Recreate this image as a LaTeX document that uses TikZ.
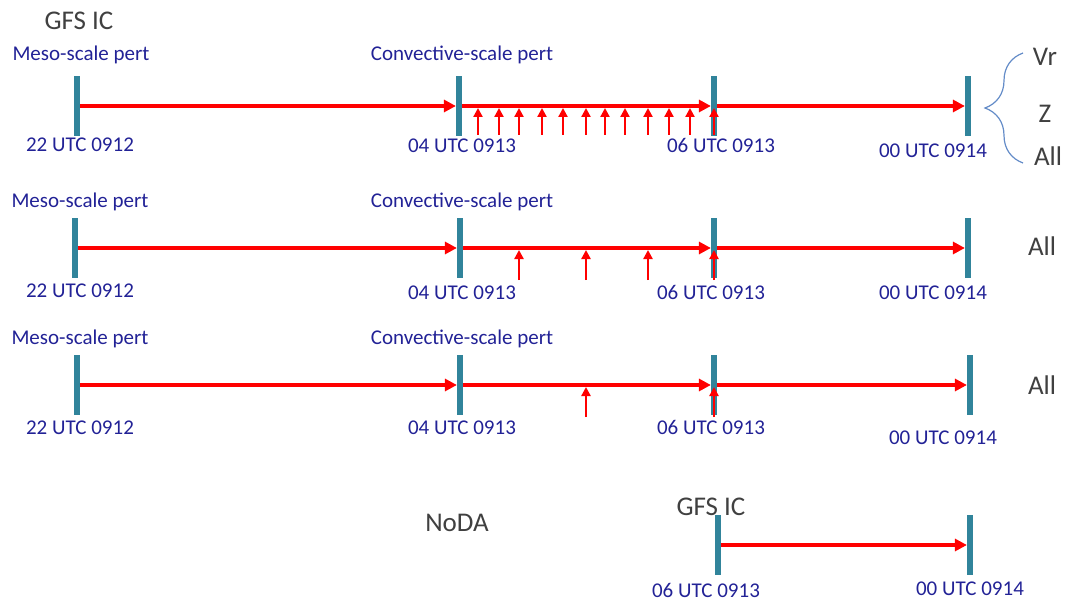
\documentclass[tikz,border=0pt]{standalone}
\usepackage{fontspec}
\setmainfont{Carlito}
\usepackage{xcolor}
\usepackage{tikz}
\usetikzlibrary{arrows.meta,decorations.pathreplacing}

\definecolor{barteal}{RGB}{49,132,155}
\definecolor{pertblue}{RGB}{34,34,150}
\definecolor{icgray}{RGB}{64,64,64}
\definecolor{bracecol}{RGB}{100,140,200}

\begin{document}
\begin{tikzpicture}[x=0.5pt, y=-0.5pt,
    tick/.style={rectangle, fill=barteal, minimum width=2.7pt, minimum height=30pt, inner sep=0pt},
    flow/.style={draw=red, line width=2pt, -{Triangle[length=6pt,width=6pt]}},
    obs/.style={draw=red, line width=1.2pt, -{Triangle[length=4.5pt,width=4.5pt]}, shorten >=1pt},
    time/.style={anchor=base, inner sep=0pt, text=pertblue, font=\fontsize{10.5}{12}\selectfont},
    pert/.style={anchor=base, inner sep=0pt, text=pertblue, font=\fontsize{10.5}{12}\selectfont},
    big/.style={anchor=base, inner sep=0pt, text=icgray, font=\fontsize{13.5}{15}\selectfont}
]
    \useasboundingbox (0,0) rectangle (1069,604);

    % row 1: Vr / Z / All
    \node[big] (ic1) at (79,30) {GFS IC};
    \node[pert] (ms1) at (81,61) {Meso-scale pert};
    \node[pert] (cs1) at (462,61) {Convective-scale pert};
    \node[tick] (a1) at (77,106) {};
    \node[tick] (a2) at (459,106) {};
    \node[tick] (a3) at (714,106) {};
    \node[tick] (a4) at (968,106) {};
    \draw[flow] (a1) -- (a2);
    \draw[flow] (a2) -- (a3);
    \draw[flow] (a3) -- (a4);
    \foreach \x [count=\i] in {478,499,519,542,563,586,605,625,648,669,690,714} {
        \coordinate (oa\i) at (\x,135);
        \draw[obs] (oa\i) -- (oa\i |- a1);
    }
    \node[time] (ta1) at (80,152) {22 UTC 0912};
    \node[time] (ta2) at (462,153) {04 UTC 0913};
    \node[time] (ta3) at (721,153) {06 UTC 0913};
    \node[time] (ta4) at (933,158) {00 UTC 0914};
    \draw[bracecol, line width=0.6pt, decorate, decoration={brace, amplitude=19pt}] (1023,163) -- (1023,53);
    \node[big] (vr) at (1045,66) {Vr};
    \node[big] (zz) at (1045,123) {Z};
    \node[big] (all1) at (1048,166) {All};

    % row 2: hourly
    \node[pert] (ms2) at (80,207) {Meso-scale pert};
    \node[pert] (cs2) at (462,207) {Convective-scale pert};
    \node[tick] (b1) at (75,248) {};
    \node[tick] (b2) at (460,248) {};
    \node[tick] (b3) at (714,248) {};
    \node[tick] (b4) at (968,248) {};
    \draw[flow] (b1) -- (b2);
    \draw[flow] (b2) -- (b3);
    \draw[flow] (b3) -- (b4);
    \foreach \x [count=\i] in {519,586,648,714} {
        \coordinate (ob\i) at (\x,280);
        \draw[obs] (ob\i) -- (ob\i |- b1);
    }
    \node[time] (tb1) at (80,297) {22 UTC 0912};
    \node[time] (tb2) at (462,299) {04 UTC 0913};
    \node[time] (tb3) at (711,299) {06 UTC 0913};
    \node[time] (tb4) at (933,299) {00 UTC 0914};
    \node[big] (all2) at (1042,256) {All};

    % row 3: one cycle
    \node[pert] (ms3) at (80,344) {Meso-scale pert};
    \node[pert] (cs3) at (462,344) {Convective-scale pert};
    \node[tick] (c1) at (77,385) {};
    \node[tick] (c2) at (460,385) {};
    \node[tick] (c3) at (714,385) {};
    \node[tick] (c4) at (970,385) {};
    \draw[flow] (c1) -- (c2);
    \draw[flow] (c2) -- (c3);
    \draw[flow] (c3) -- (c4);
    \foreach \x [count=\i] in {586,714} {
        \coordinate (oc\i) at (\x,417);
        \draw[obs] (oc\i) -- (oc\i |- c1);
    }
    \node[time] (tc1) at (80,434) {22 UTC 0912};
    \node[time] (tc2) at (462,434) {04 UTC 0913};
    \node[time] (tc3) at (711,434) {06 UTC 0913};
    \node[time] (tc4) at (943,444) {00 UTC 0914};
    \node[big] (all3) at (1042,394) {All};

    % NoDA
    \node[big] (noda) at (457,531) {NoDA};
    \node[big] (ic2) at (711,515) {GFS IC};
    \node[tick] (d1) at (718,545) {};
    \node[tick] (d2) at (970,545) {};
    \draw[flow] (d1) -- (d2);
    \node[time] (td1) at (706,597) {06 UTC 0913};
    \node[time] (td2) at (970,595) {00 UTC 0914};
\end{tikzpicture}
\end{document}
